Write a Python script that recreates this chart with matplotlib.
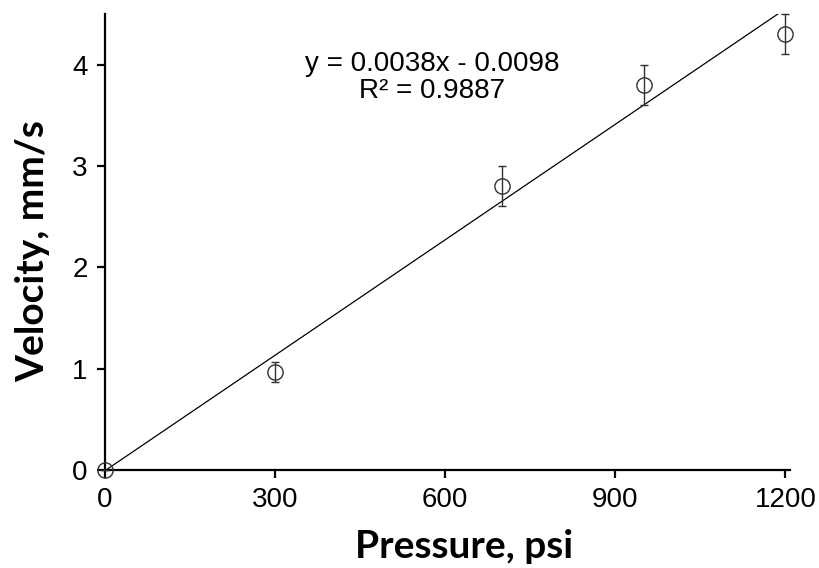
import matplotlib
matplotlib.use("Agg")
import matplotlib.pyplot as plt
import numpy as np

pressure = [0, 300, 700, 950, 1200]
velocity = [0.0, 0.965, 2.80, 3.80, 4.30]
errors = [0.0, 0.10, 0.20, 0.20, 0.20]
slope = 0.0038
intercept = -0.0098
r2 = 0.9887
xticks = [0, 300, 600, 900, 1200]
yticks = [0, 1, 2, 3, 4]

fig = plt.figure(figsize=(8.19, 5.68), dpi=100)
ax = fig.add_axes([0.1276, 0.1725, 0.8370, 0.8030])

xs = np.array([0, 1200])
ax.plot(xs, slope * xs + intercept, color="black", lw=0.9, zorder=2)

ax.errorbar(pressure, velocity, yerr=errors, fmt="none", ecolor="#303030",
            elinewidth=1.0, capsize=3, capthick=1.0, zorder=3, clip_on=False)
ax.plot(pressure, velocity, "o", mfc="none", mec="#303030", mew=1.0,
        ms=11, zorder=4, clip_on=False)

ax.set_xlim(0, 1208)
ax.set_ylim(0, 4.5)
ax.set_xticks(xticks)
ax.set_yticks(yticks)

for s in ["top", "right"]:
    ax.spines[s].set_visible(False)
for s in ["left", "bottom"]:
    ax.spines[s].set_linewidth(1.6)

ax.tick_params(direction="out", length=6, width=1.6, labelsize=20, pad=6)
for lab in ax.get_xticklabels() + ax.get_yticklabels():
    lab.set_fontfamily("Liberation Sans")

ax.set_xlabel("Pressure, psi", fontfamily="Lato", fontweight="bold", fontsize=28)
ax.set_ylabel("Velocity, mm/s", fontfamily="Lato", fontweight="bold", fontsize=28)
ax.xaxis.set_label_coords(0.525, -0.13)
ax.yaxis.set_label_coords(-0.079, 0.481)

ax.text(577, 3.87, f"y = {slope:.4f}x - {abs(intercept):.4f}\nR² = {r2:.4f}",
        ha="center", va="center", fontsize=20, fontfamily="Liberation Sans",
        linespacing=1.05)

fig.savefig("out.png", dpi=100)
